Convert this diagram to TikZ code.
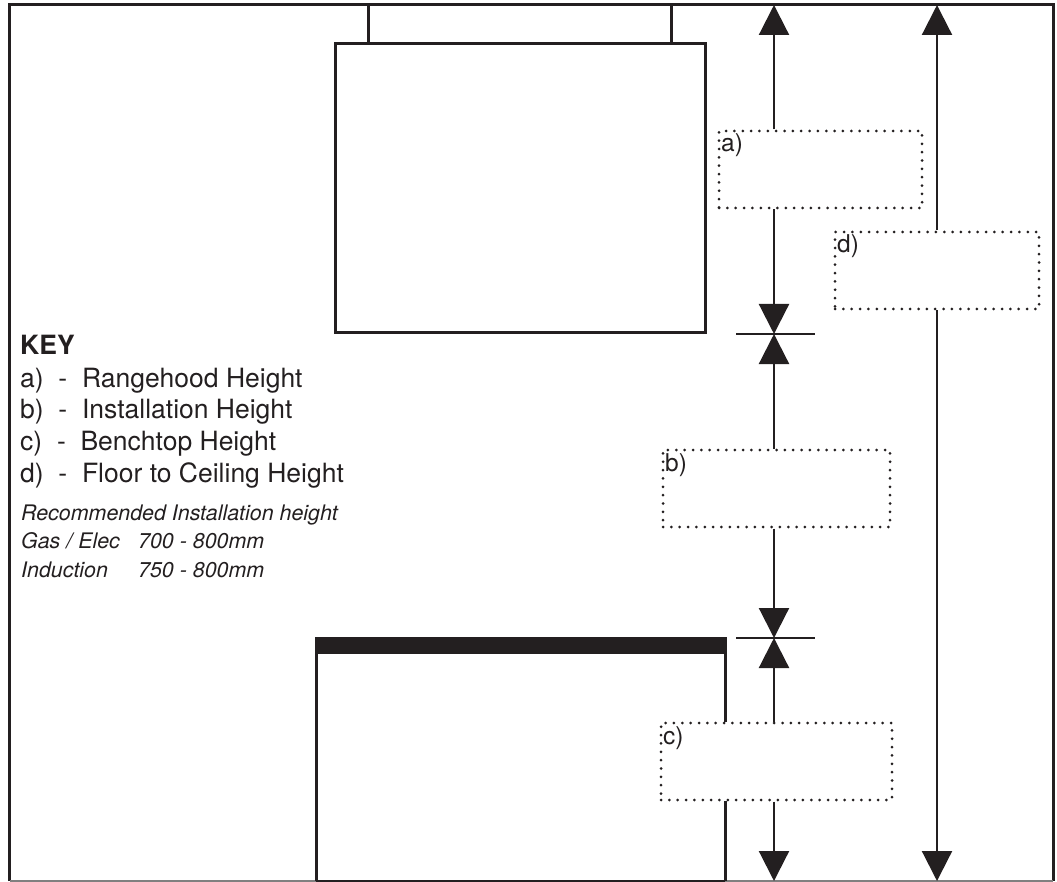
\documentclass[tikz,border=0pt]{standalone}
\usepackage{fontspec}
\setmainfont{TeX Gyre Heros}
\usetikzlibrary{arrows.meta}
\definecolor{inkblack}{HTML}{231F20}
\begin{document}
\begin{tikzpicture}[x=1pt,y=-1pt,color=inkblack]
      \tikzstyle{outline} = [line width=3pt]
      \tikzstyle{dimline} = [line width=2.2pt, -{Triangle[length=30pt,width=30pt]}]
      \tikzstyle{tickline} = [line width=1.2pt]
      \tikzstyle{dimbox} = [draw, rectangle, fill=white, inner sep=0pt, line width=3pt, line cap=round,
        dash pattern=on 0pt off 8.35pt, minimum height=77pt]
      \tikzstyle{boxlabel} = [anchor=base west, inner sep=0pt, font=\fontsize{24.5}{26}\selectfont]
      \tikzstyle{keyline} = [anchor=base west, inner sep=0pt, font=\fontsize{26.5}{31}\selectfont]
      \tikzstyle{noteline} = [anchor=base west, inner sep=0pt, font=\fontsize{21.4}{28}\selectfont\itshape]
      \useasboundingbox (0,0) rectangle (1057,882);
      % frame
      \draw[outline] (9.5,881) -- (9.5,5) -- (1053,5) -- (1053,881);
      \draw[line width=1.5pt, gray] (9.5,881) -- (1053,881);
      \draw[line width=1.5pt] (316,881) -- (725,881);
      % rangehood
      \draw[outline] (335,44) rectangle (705,333);
      \draw[outline] (368,5) -- (368,44);
      \draw[outline] (671,5) -- (671,44);
      % dimension boxes
      \node[dimbox, minimum width=203pt] (boxa) at (820.5,169.5) {};
      \node[dimbox, minimum width=227pt] (boxb) at (776.5,488.5) {};
      \node[dimbox, minimum width=231pt] (boxc) at (776.5,761.5) {};
      \node[dimbox, minimum width=204pt] (boxd) at (937,270.5) {};
      \node[boxlabel] (laba) at (721,152) {a)};
      \node[boxlabel] (labb) at (665,471) {b)};
      \node[boxlabel] (labc) at (663,744) {c)};
      \node[boxlabel] (labd) at (837,253) {d)};
      % benchtop
      \fill (315,637) rectangle (726.5,654);
      \draw[outline] (316,654) -- (316,881);
      \draw[outline] (725,654) -- (725,722);
      \draw[outline] (725,801) -- (725,881);
      % dimension lines
      \coordinate (top) at (774,5);
      \coordinate (hoodlevel) at (774,334);
      \coordinate (benchlevel) at (774,638);
      \coordinate (floor) at (774,881);
      \coordinate (ceiling) at (937,5);
      \coordinate (ground) at (937,881);
      \draw[dimline] (top |- boxa.north) -- (top);
      \draw[dimline] (top |- boxa.south) -- (hoodlevel);
      \draw[dimline] (top |- boxb.north) -- (hoodlevel);
      \draw[dimline] (top |- boxb.south) -- (benchlevel);
      \draw[dimline] (top |- boxc.north) -- (benchlevel);
      \draw[dimline] (top |- boxc.south) -- (floor);
      \draw[dimline] (boxd.north) -- (ceiling);
      \draw[dimline] (boxd.south) -- (ground);
      \foreach \lev in {hoodlevel,benchlevel}{
        \draw[tickline] ([xshift=-38pt]\lev) -- ([xshift=41pt]\lev);
      }
      % key
      \node[keyline, font=\fontsize{26.5}{31}\selectfont\bfseries] (key) at (20,355) {KEY};
      \foreach \y/\n/\txt in {387/a/{a)~~-~~Rangehood Height},
                              418.7/b/{b)~~-~~Installation Height},
                              450/c/{c)~~-~~Benchtop Height},
                              482.7/d/{d)~~-~~Floor to Ceiling Height}}{
        \node[keyline] (key\n) at (20,\y) {\txt};
      }
      \node[noteline] (note) at (21,520) {Recommended Installation height};
      \node[noteline] (gas) at (21,548.5) {\makebox[117pt][l]{Gas / Elec}700 - 800mm};
      \node[noteline] (induction) at (21,577.5) {\makebox[117pt][l]{Induction}750 - 800mm};
    \end{tikzpicture}
\end{document}
